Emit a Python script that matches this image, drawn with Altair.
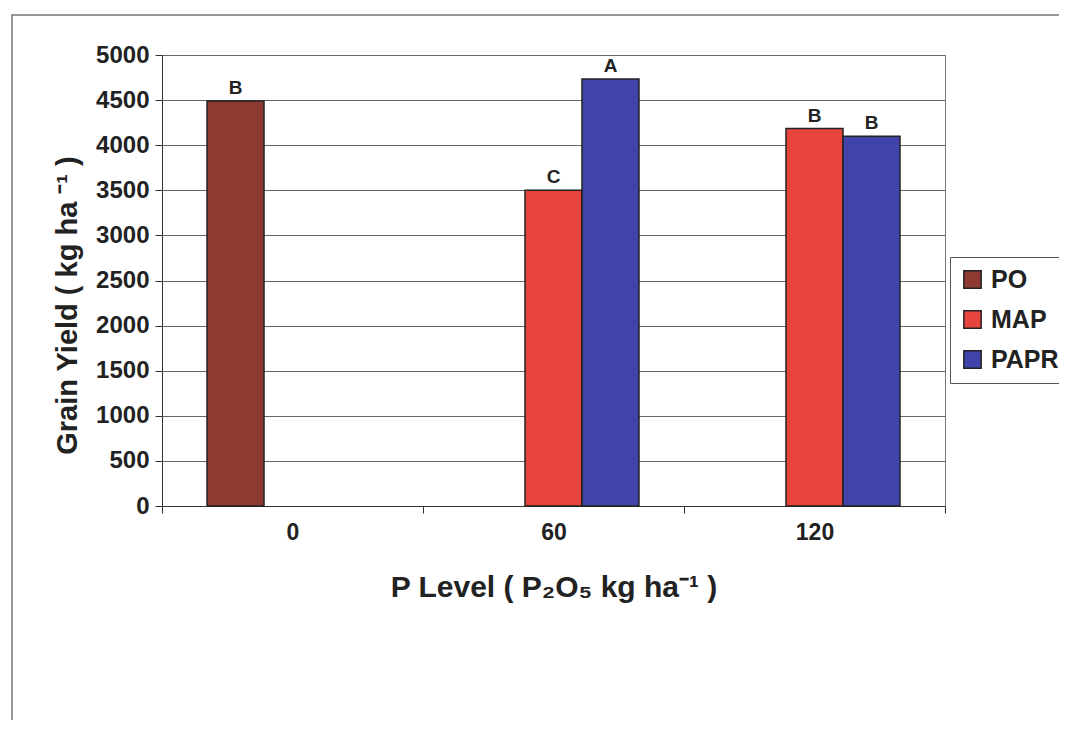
import altair as alt
import pandas as pd

levels = ["0", "60", "60", "120", "120"]
sources = ["PO", "MAP", "PAPR", "MAP", "PAPR"]
yields = [4490, 3500, 4735, 4185, 4100]
letters = ["B", "C", "A", "B", "B"]

level_order = ["0", "60", "120"]
source_order = ["PO", "MAP", "PAPR"]
source_colors = ["#8E3A33", "#E8443E", "#3F43AA"]

df = pd.DataFrame({"level": levels, "source": sources, "yield": yields, "letter": letters})

FONT = "Liberation Sans"
W, H = 783, 451

x_enc = alt.X("level:N", sort=level_order,
              scale=alt.Scale(domain=level_order, paddingInner=0, paddingOuter=0),
              axis=alt.Axis(title="P Level ( P₂O₅  kg ha⁻¹ )", labelAngle=0,
                            tickBand="extent", tickSize=7, tickColor="#333",
                            domainColor="#333", labelFontSize=23, labelFontWeight="bold",
                            labelColor="#222", labelPadding=8, titleFontSize=30,
                            titleFontWeight="bold", titleColor="#222", titlePadding=28,
                            labelFont=FONT, titleFont=FONT, grid=False))
xoff = alt.XOffset("source:N", sort=source_order,
                   scale=alt.Scale(domain=source_order, paddingInner=0, paddingOuter=0.79))
y_enc = alt.Y("yield:Q", scale=alt.Scale(domain=[0, 5000]),
              axis=alt.Axis(title="Grain Yield ( kg ha ⁻¹ )", values=list(range(0, 5001, 500)),
                            format="d", tickSize=7, tickColor="#333", domainColor="#333",
                            gridColor="#666", gridWidth=1,
                            labelFontSize=24, labelFontWeight="bold", labelColor="#222",
                            labelPadding=6, titleFontSize=29, titleFontWeight="bold",
                            titleColor="#222", titlePadding=13, titleY=250,
                            labelFont=FONT, titleFont=FONT))

bars = alt.Chart(df).mark_bar(stroke="#222", strokeWidth=1.5).encode(
    x=x_enc, xOffset=xoff, y=y_enc,
    color=alt.Color("source:N", sort=source_order,
                    scale=alt.Scale(domain=source_order, range=source_colors),
                    legend=alt.Legend(title=None, orient="none", legendX=788, legendY=202,
                                      symbolType="square", symbolSize=300,
                                      symbolStrokeColor="#222", symbolStrokeWidth=1.5,
                                      labelFontSize=25, labelFontWeight="bold",
                                      labelColor="#222", labelFont=FONT, rowPadding=14,
                                      labelOffset=6,
                                      strokeColor="#555", padding=10,
                                      fillColor="white")),
)

labels = alt.Chart(df).mark_text(fontSize=19, fontWeight="bold", font=FONT,
                                 color="#222", dy=-13).encode(
    x=alt.X("level:N", sort=level_order), xOffset=xoff, y="yield:Q", text="letter:N")

frame = alt.Chart(pd.DataFrame({"a": [0]})).mark_rect(
    fill=None, stroke="#777", strokeWidth=1.5).encode(
    x=alt.value(-150), x2=alt.value(W + 120), y=alt.value(-40), y2=alt.value(675))

chart = alt.layer(frame, bars, labels).properties(
    width=W, height=H,
    autosize=alt.AutoSizeParams(type="none"),
    padding={"left": 154, "top": 47, "right": 114, "bottom": 214},
    background="white",
).configure_view(stroke="#777", strokeWidth=1)

chart.save("out.html", embed_options={"renderer": "svg", "actions": False})
